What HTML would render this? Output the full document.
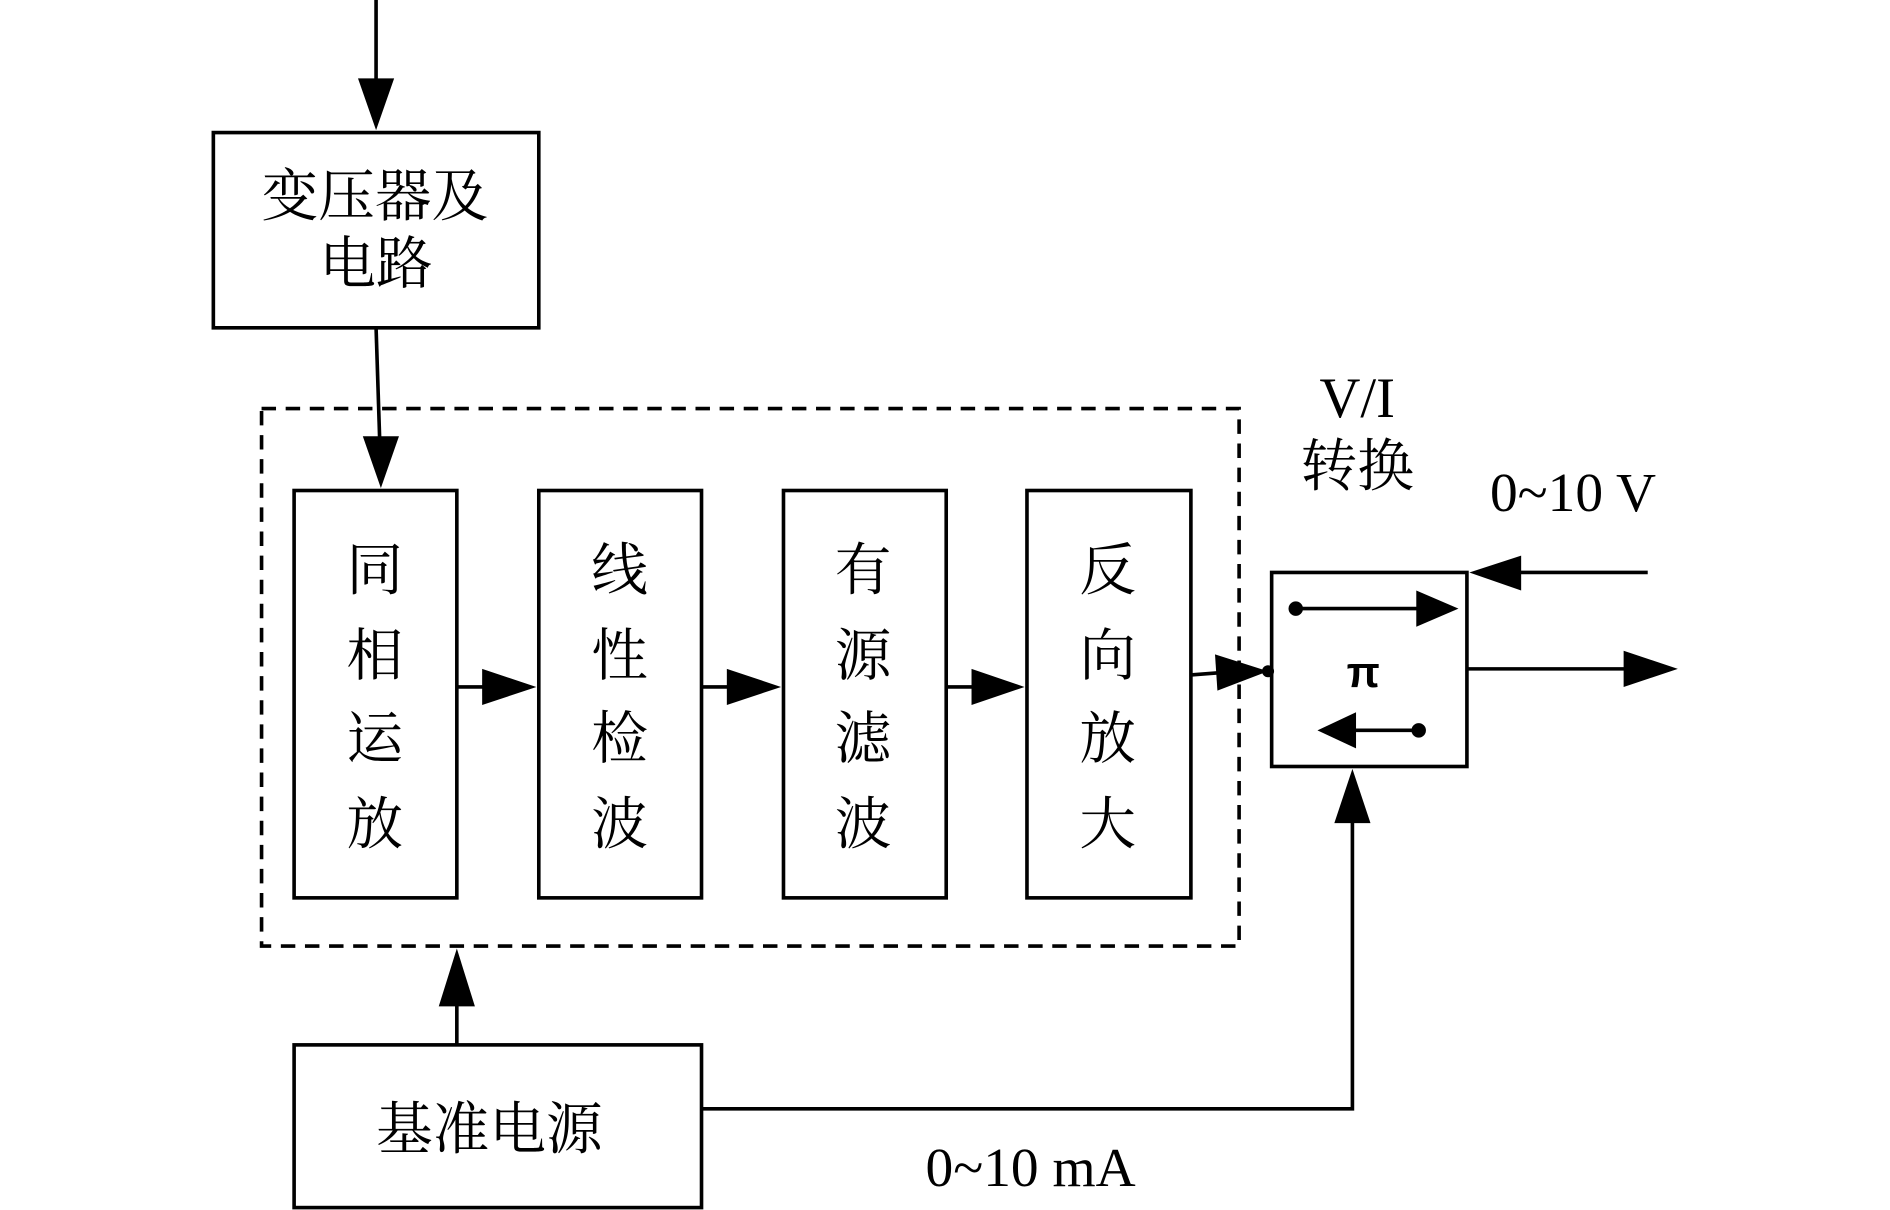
<!DOCTYPE html>
<html><head><meta charset="utf-8"><style>html,body{margin:0;padding:0;background:#fff}svg{display:block}</style></head>
<body>
<svg width="1890" height="1210" viewBox="0 0 1568 1004" preserveAspectRatio="none" xmlns="http://www.w3.org/2000/svg">
<g stroke="#000" stroke-width="3" fill="none">
<line x1="312" y1="0" x2="312" y2="70"/>
<rect x="177" y="110" width="270" height="162"/>
<line x1="312" y1="272" x2="315" y2="365"/>
<rect x="217" y="339" width="811" height="446" stroke-dasharray="12,8"/>
<rect x="244" y="407" width="135" height="338"/>
<rect x="447" y="407" width="135" height="338"/>
<rect x="650" y="407" width="135" height="338"/>
<rect x="852" y="407" width="136" height="338"/>
<line x1="379" y1="570" x2="405" y2="570"/>
<line x1="582" y1="570" x2="608" y2="570"/>
<line x1="785" y1="570" x2="810" y2="570"/>
<line x1="988" y1="560" x2="1015" y2="558"/>
<rect x="1055" y="475" width="162" height="161"/>
<line x1="1075" y1="505" x2="1178" y2="505"/>
<line x1="1120" y1="606" x2="1177" y2="606"/>
<line x1="1367" y1="475" x2="1255" y2="475"/>
<line x1="1217" y1="555" x2="1350" y2="555"/>
<line x1="379" y1="867" x2="379" y2="830"/>
<rect x="244" y="867" width="338" height="135"/>
<polyline points="582,920 1122,920 1122,678"/>
</g>
<g fill="#000">
<polygon points="297,65 327,65 312,108"/>
<polygon points="301,362 331,362 316,405"/>
<polygon points="400,555 400,585 445,570"/>
<polygon points="603,555 603,585 648,570"/>
<polygon points="806,555 806,585 850,570"/>
<polygon points="1008,543 1010,573 1052,557"/>
<circle cx="1052" cy="557" r="5"/>
<circle cx="1075" cy="505" r="6"/>
<polygon points="1175,490 1175,520 1210,505"/>
<circle cx="1177" cy="606" r="6"/>
<polygon points="1125,591 1125,621 1093,606"/>
<polygon points="1262,461 1262,490 1219,475"/>
<polygon points="1347,540 1347,570 1392,555"/>
<polygon points="364,835 394,835 379,787"/>
<polygon points="1107,683 1137,683 1122,638"/>
</g>
<g font-family="'Liberation Serif','Noto Serif CJK SC','Noto Sans CJK SC',serif" font-size="47" text-anchor="middle" fill="#000">
<text x="311" y="179">变压器及</text>
<text x="312" y="235">电路</text>
<g>
<text x="311" y="489">同</text><text x="311" y="560">相</text><text x="311" y="629">运</text><text x="311" y="700">放</text>
<text x="514" y="489">线</text><text x="514" y="560">性</text><text x="514" y="629">检</text><text x="514" y="700">波</text>
<text x="716" y="489">有</text><text x="716" y="560">源</text><text x="716" y="629">滤</text><text x="716" y="700">波</text>
<text x="919" y="489">反</text><text x="919" y="560">向</text><text x="919" y="629">放</text><text x="919" y="700">大</text>
</g>
<text x="1126" y="346">V/I</text>
<text x="1126" y="403">转换</text>
<text x="1305" y="424" font-size="46">0~10 V</text>
<text x="1131" y="570" font-size="36" font-family="'Liberation Sans',sans-serif" font-weight="bold">π</text>
<text x="406" y="953">基准电源</text>
<text x="855" y="984" font-size="46">0~10 mA</text>
</g>
</svg>
</body></html>
